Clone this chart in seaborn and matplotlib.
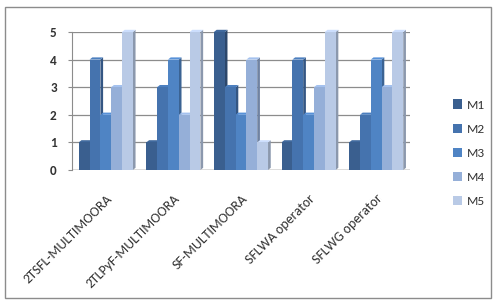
import matplotlib
matplotlib.use("Agg")
import matplotlib.pyplot as plt
import seaborn as sns
import pandas as pd
import numpy as np
from matplotlib.patches import Polygon

categories = ["2TSFL-MULTIMOORA", "2TLPyF-MULTIMOORA", "SF-MULTIMOORA",
              "SFLWA operator", "SFLWG operator"]
series = ["M1", "M2", "M3", "M4", "M5"]
M1 = [1, 1, 5, 1, 1]
M2 = [4, 3, 3, 4, 2]
M3 = [2, 4, 2, 2, 4]
M4 = [3, 2, 4, 3, 3]
M5 = [5, 5, 1, 5, 5]
colors = ["#3A5F8F", "#4573AE", "#4F84C4", "#95AFD8", "#B9CAE6"]

rows = []
for s, vals in zip(series, [M1, M2, M3, M4, M5]):
    for c, v in zip(categories, vals):
        rows.append({"cat": c, "series": s, "value": v})
df = pd.DataFrame(rows)

sns.set_style("white")
plt.rcParams['font.family'] = ['Carlito', 'Liberation Sans', 'DejaVu Sans']

fig = plt.figure(figsize=(5.04, 3.03), dpi=100)
# outer chart border
fig.patches.append(plt.Rectangle((5/504, 1-298/303), 486/504, 291/303,
                                 transform=fig.transFigure, fill=False,
                                 edgecolor="#8C8C8C", linewidth=1.0))
ax = fig.add_axes([72/504, 1-170/303, 338/504, 138/303])

sns.barplot(data=df, x="cat", y="value", hue="series", order=categories,
            hue_order=series, palette=colors, width=0.8, ax=ax,
            saturation=1, edgecolor="none", legend=True, zorder=3)

ax.set_xlim(-0.5, len(categories) - 0.5)
ax.set_yticks(range(0, 6))
ax.yaxis.grid(True, color="#8C8C8C", linewidth=0.9, zorder=0)
ax.set_axisbelow(True)
for sp in ["top", "right", "bottom"]:
    ax.spines[sp].set_visible(False)
ax.spines["left"].set_color("#8C8C8C")
ax.set_xlabel("")
ax.set_ylabel("")
ax.tick_params(axis="y", labelsize=9.5, colors="#333333", length=3, left=True,
               color="#8C8C8C", pad=8)
for t in ax.get_yticklabels():
    t.set_fontweight("bold")
ax.set_xticks(range(len(categories)))
ax.set_xticklabels(categories, rotation=45, ha="right", rotation_mode="anchor",
                   fontsize=10, color="#333333")
ax.tick_params(axis="x", length=0, pad=16)
ax.set_xticks(np.arange(-0.5, len(categories), 1.0), minor=True)
ax.tick_params(axis="x", which="minor", length=4, color="#8C8C8C")
ax.axhline(0, color="#8C8C8C", linewidth=1.0, zorder=2)

# 3D-like side and top faces derived from bar geometry
for patch, col in zip(ax.patches, [c for c in colors for _ in categories]):
    x0, y0 = patch.get_x(), patch.get_y()
    w, h = patch.get_width(), patch.get_height()
    if h <= 0:
        continue
    dx = w * 0.25
    dy = 0.08
    rgb = np.array(matplotlib.colors.to_rgb(col))
    side = Polygon([(x0 + w, y0), (x0 + w + dx, y0 + dy), (x0 + w + dx, y0 + h + dy), (x0 + w, y0 + h)],
                   closed=True, facecolor=rgb * 0.75, edgecolor="none", zorder=2.9, clip_on=False)
    top = Polygon([(x0, y0 + h), (x0 + dx, y0 + h + dy), (x0 + w + dx, y0 + h + dy), (x0 + w, y0 + h)],
                  closed=True, facecolor=np.minimum(rgb * 1.1, 1), edgecolor="none", zorder=2.9, clip_on=False)
    ax.add_patch(side)
    ax.add_patch(top)
ax.set_ylim(0, 5)

leg = ax.legend(loc="center left", bbox_to_anchor=((446 - 72) / 338, 0.12), frameon=False,
                fontsize=9.5, handlelength=0.7, handleheight=0.7, labelspacing=0.98,
                handletextpad=0.35, borderpad=0)
for t in leg.get_texts():
    t.set_color("#333333")

fig.savefig("out.png", dpi=100)
